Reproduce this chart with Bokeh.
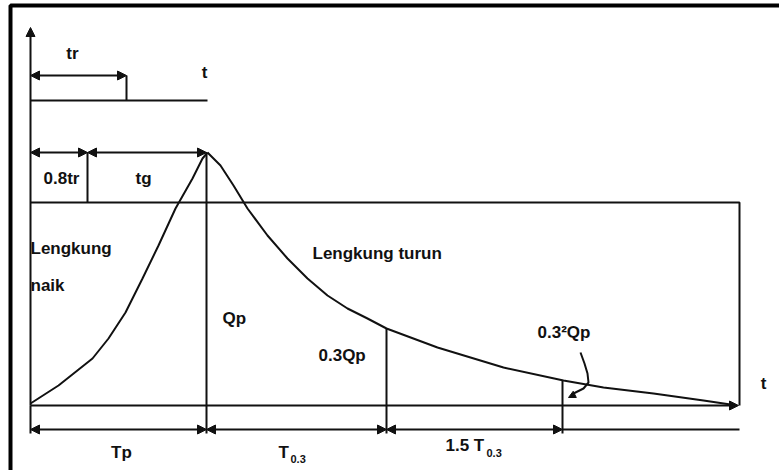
from bokeh.plotting import figure
from bokeh.models import Range1d, Arrow, NormalHead, Label
from bokeh.embed import file_html
from bokeh.resources import INLINE

# ---- data (diagram units: t to the right, Q upward) ----
rise_t = [0, 28, 62, 78, 95, 112, 128, 145, 162, 172, 177]
rise_q = [2, 20, 47, 67, 93, 127, 160, 197, 227, 247, 253]
fall_t = [177, 190, 203, 217, 237, 257, 277, 297, 317, 337, 356, 407, 473, 533, 573, 623, 673, 700]
fall_q = [253, 240, 220, 197, 170, 147, 127, 110, 97, 87, 77, 58, 38, 25, 18, 12, 5, 1]

t_peak = 176       # Tp
t_03 = 356         # Tp + T0.3
t_03sq = 532       # Tp + T0.3 + 1.5 T0.3
t_end = 709
q_peak = 253
q_box = 203
t_08tr = 57
t_tr = 96
q_tr_row = 330
q_t_line = 305
q_top = 378
q_dim = -24
q_low = -28

FONT = "Liberation Sans"
INK = "#111111"

p = figure(width=780, height=471, x_range=Range1d(-30, 750), y_range=Range1d(-66, 405),
           x_axis_type=None, y_axis_type=None, min_border=0,
           toolbar_location=None, output_backend="svg")
p.grid.visible = False
p.outline_line_color = None
p.outline_line_alpha = 0
p.background_fill_color = "white"
p.border_fill_color = "white"

# outer frame (top and left edges visible)
p.line([-20, -20, 760], [-70, 400, 400], line_color="black", line_width=4)

# curves
p.line(rise_t, rise_q, line_color=INK, line_width=2)
p.line(fall_t, fall_q, line_color=INK, line_width=2)

# helper lines
p.line([t_tr, t_tr], [q_tr_row, q_t_line], line_color=INK, line_width=2)
p.line([0, t_peak + 1], [q_t_line, q_t_line], line_color=INK, line_width=2)
p.line([t_08tr, t_08tr], [q_peak, q_box], line_color=INK, line_width=2)
p.line([0, t_end, t_end], [q_box, q_box, 0], line_color=INK, line_width=2)
p.line([t_peak, t_peak], [q_peak, q_low], line_color=INK, line_width=2)
p.line([t_03, t_03], [77, q_low], line_color=INK, line_width=2)
p.line([t_03sq, t_03sq], [25, q_low], line_color=INK, line_width=2)
p.line([t_03sq, t_end], [q_dim, q_dim], line_color=INK, line_width=2)
p.line([0, 0], [q_low, 0], line_color=INK, line_width=2)

def arrow(x0, y0, x1, y1, both=False, size=9):
    head = lambda: NormalHead(size=size, fill_color=INK, line_color=INK, line_width=1)
    p.add_layout(Arrow(x_start=x0, y_start=y0, x_end=x1, y_end=y1,
                       end=head(), start=head() if both else None,
                       line_color=INK, line_width=2))

# axes
arrow(0, 0, 0, q_top)
arrow(0, 0, t_end - 1, 0)

# dimension arrows
arrow(0, q_tr_row, t_tr, q_tr_row, both=True)
arrow(0, q_peak, t_08tr, q_peak, both=True)
arrow(t_08tr, q_peak, t_peak, q_peak, both=True)
arrow(0, q_dim, t_peak, q_dim, both=True)
arrow(t_peak, q_dim, t_03, q_dim, both=True)
arrow(t_03, q_dim, t_03sq, q_dim, both=True)

# pointer for 0.3^2 Qp
ptr_t = [550, 554, 557, 558, 553, 543]
ptr_q = [53, 42, 32, 23, 17, 12]
p.line(ptr_t, ptr_q, line_color=INK, line_width=2)
arrow(544, 11, 538, 8, size=7)

def lab(x, y, text, size=17, align="left", bold=True):
    p.add_layout(Label(x=x, y=y, text=text, text_font=FONT, text_font_size=f"{size}px",
                       text_font_style="bold" if bold else "normal",
                       text_align=align, text_baseline="middle", text_color=INK))

lab(42, 352, "tr", align="center")
lab(174, 333, "t", align="center")
lab(31, 227, "0.8tr", align="center")
lab(113, 227, "tg", align="center")
lab(0, 157, "Lengkung")
lab(0, 120, "naik")
lab(282, 152, "Lengkung turun")
lab(192, 87, "Qp")
lab(288, 50, "0.3Qp")
lab(507, 73, "0.3²Qp")
lab(91, -47, "Tp", align="center")
lab(248, -47, "T")
lab(260, -53, "0.3", size=11)
lab(415, -40, "1.5 T")
lab(456, -47, "0.3", size=11)
lab(733, 22, "t", align="center")

open("out.html", "w").write(file_html(p, INLINE))
